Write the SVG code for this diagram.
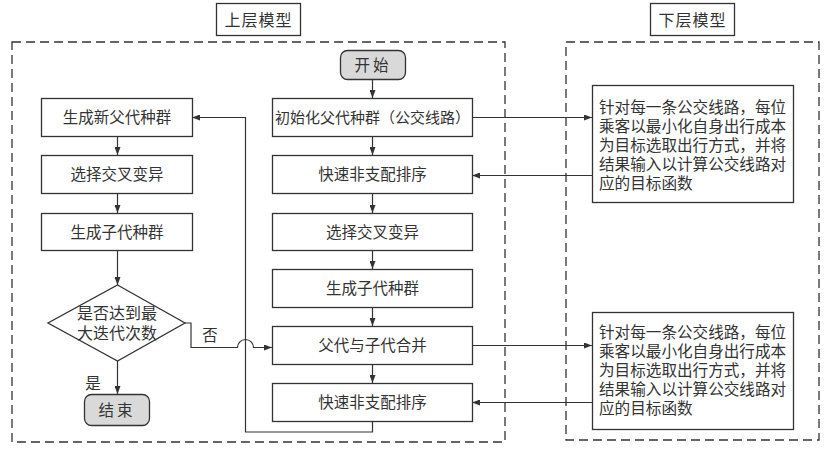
<svg xmlns="http://www.w3.org/2000/svg" width="829" height="449" viewBox="0 0 829 449">
<style>
text{font-family:"Liberation Sans","Noto Sans CJK SC",sans-serif;fill:#333;dominant-baseline:central;text-anchor:middle}
.box{fill:#fff;stroke:#333;stroke-width:1.3}
.term{fill:#d9d9d9;stroke:#333;stroke-width:1.3}
.dash{fill:none;stroke:#333;stroke-width:1.3;stroke-dasharray:9 5}
.t{font-size:15.5px}
.ln{fill:none;stroke:#333;stroke-width:1.2}
.arr{marker-end:url(#ah)}
.lt{font-size:15.6px;text-anchor:start}
</style>
<defs>
<marker id="ah" viewBox="0 0 8 6" refX="8" refY="3" markerWidth="8" markerHeight="6" markerUnits="userSpaceOnUse" orient="auto">
<path d="M0,0 L8,3 L0,6 z" fill="#333"/>
</marker>
</defs>
<rect width="829" height="449" fill="#fff"/>

<g id="upper-frame">
<rect class="dash" x="12" y="42" width="493" height="400"/>
<rect class="box" x="216.5" y="3.5" width="84" height="32"/>
<text x="258.5" y="20" style="font-size:16px;letter-spacing:1px">上层模型</text>
</g>
<g id="lower-frame">
<rect class="dash" x="566" y="42" width="253" height="398"/>
<rect class="box" x="650.5" y="3.5" width="84" height="32"/>
<text x="692.5" y="20" style="font-size:16px;letter-spacing:1px">下层模型</text>
</g>

<g id="connectors">
<path class="ln arr" d="M372.5,79 V98"/>
<path class="ln arr" d="M372.5,136 V155"/>
<path class="ln arr" d="M372.5,193 V213"/>
<path class="ln arr" d="M372.5,250 V269"/>
<path class="ln arr" d="M372.5,307 V326"/>
<path class="ln arr" d="M372.5,364 V383"/>
<path class="ln arr" d="M117.5,136 V155"/>
<path class="ln arr" d="M117.5,193 V213"/>
<path class="ln arr" d="M117.5,250 V285"/>
<path class="ln arr" d="M117.5,361 V394"/>
<path class="ln arr" d="M372.5,421 V432 H245.5 V117.5 H192"/>
<path class="ln arr" d="M185,323 H191 V347.5 H237.5 A8,8 0 0 1 253.5,347.5 H272"/>
<path class="ln arr" d="M472,117.5 H592"/>
<path class="ln arr" d="M592,175.5 H472"/>
<path class="ln arr" d="M472,345.5 H592"/>
<path class="ln arr" d="M592,402.5 H472"/>
<text x="210" y="335" class="t">否</text>
<text x="93" y="383" class="t">是</text>
</g>

<g id="start"><rect class="term" x="340.5" y="50.5" width="65" height="29" rx="7"/><text x="373" y="65" class="t" style="letter-spacing:3px">开始</text></g>
<g id="init"><rect class="box" x="272.5" y="98.5" width="200" height="38"/><text x="372.5" y="117.5" style="font-size:15px">初始化父代种群（公交线路）</text></g>
<g id="sort1"><rect class="box" x="272.5" y="155.5" width="200" height="38"/><text x="372.5" y="174.5" class="t">快速非支配排序</text></g>
<g id="cross1"><rect class="box" x="272.5" y="213.5" width="200" height="37"/><text x="372.5" y="232" class="t">选择交叉变异</text></g>
<g id="child1"><rect class="box" x="272.5" y="269.5" width="200" height="38"/><text x="372.5" y="288.5" class="t">生成子代种群</text></g>
<g id="merge"><rect class="box" x="272.5" y="326.5" width="200" height="38"/><text x="372.5" y="345.5" class="t">父代与子代合并</text></g>
<g id="sort2"><rect class="box" x="272.5" y="383.5" width="200" height="38"/><text x="372.5" y="402.5" class="t">快速非支配排序</text></g>

<g id="newparent"><rect class="box" x="41.5" y="98.5" width="151" height="38"/><text x="117" y="117.5" class="t">生成新父代种群</text></g>
<g id="cross2"><rect class="box" x="41.5" y="155.5" width="151" height="38"/><text x="117" y="174.5" class="t">选择交叉变异</text></g>
<g id="child2"><rect class="box" x="41.5" y="213.5" width="151" height="37"/><text x="117" y="232" class="t">生成子代种群</text></g>
<g id="decision"><path class="box" d="M117.5,285 L185,323 L117.5,361 L48,323 Z"/><text style="font-size:16px"><tspan x="117" y="313">是否达到最</tspan><tspan x="117" y="333">大迭代次数</tspan></text></g>
<g id="end"><rect class="term" x="84.5" y="394.5" width="65" height="31" rx="7"/><text x="117" y="410" class="t" style="letter-spacing:3px">结束</text></g>

<g id="lower1"><rect class="box" x="592.5" y="85.5" width="201" height="117"/>
<text class="lt"><tspan x="599" y="107">针对每一条公交线路，每位</tspan><tspan x="599" y="126">乘客以最小化自身出行成本</tspan><tspan x="599" y="145">为目标选取出行方式，并将</tspan><tspan x="599" y="164">结果输入以计算公交线路对</tspan><tspan x="599" y="183">应的目标函数</tspan></text>
</g>
<g id="lower2"><rect class="box" x="592.5" y="312.5" width="201" height="117"/>
<text class="lt"><tspan x="599" y="332">针对每一条公交线路，每位</tspan><tspan x="599" y="351">乘客以最小化自身出行成本</tspan><tspan x="599" y="370">为目标选取出行方式，并将</tspan><tspan x="599" y="389">结果输入以计算公交线路对</tspan><tspan x="599" y="408">应的目标函数</tspan></text>
</g>
</svg>
